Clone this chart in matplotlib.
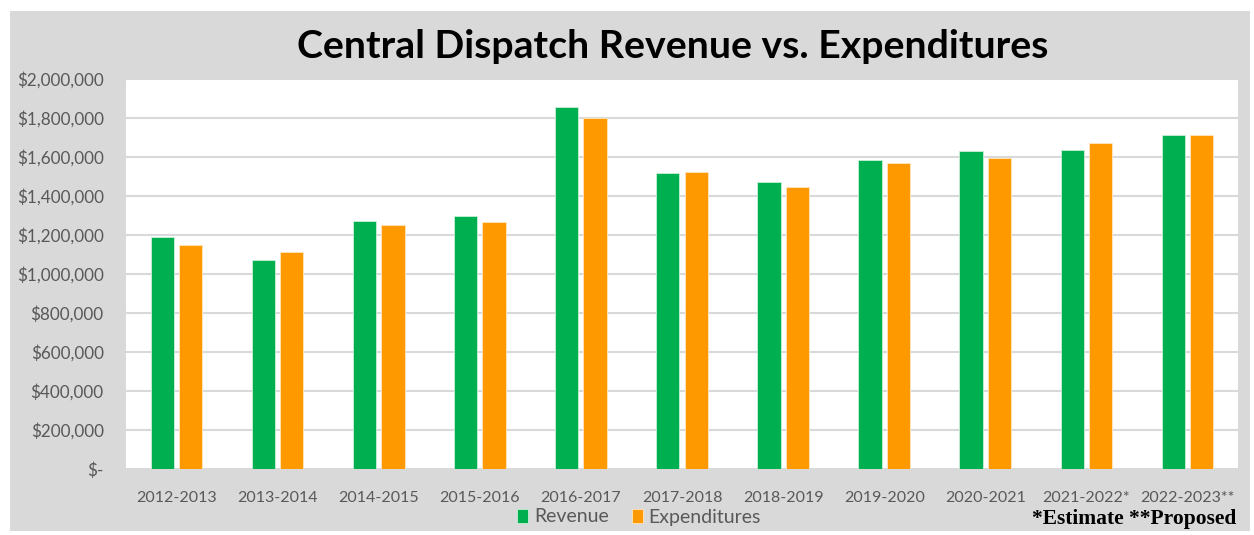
import matplotlib
matplotlib.use("Agg")
import matplotlib.pyplot as plt
from matplotlib.patches import Rectangle
from matplotlib.ticker import FuncFormatter
import numpy as np

categories = ["2012-2013", "2013-2014", "2014-2015", "2015-2016", "2016-2017",
              "2017-2018", "2018-2019", "2019-2020", "2020-2021", "2021-2022*",
              "2022-2023**"]
revenue = [1191000, 1074000, 1274000, 1298000, 1856000, 1520000, 1470000,
           1583000, 1632000, 1636000, 1714000]
expenditures = [1147000, 1113000, 1250000, 1269000, 1798000, 1525000, 1447000,
                1571000, 1597000, 1673000, 1714000]
yticks = [0, 200000, 400000, 600000, 800000, 1000000, 1200000, 1400000,
          1600000, 1800000, 2000000]

GREEN = "#00b050"
ORANGE = "#ff9900"
BG = "#d9d9d9"
TXT = "#595959"
FONT = "Lato"

fig = plt.figure(figsize=(12.54, 5.35), dpi=100)
fig.patch.set_facecolor("white")
fig.patches.append(Rectangle((10 / 1254, 1 - 531 / 535), 1240 / 1254, 520 / 535,
                             transform=fig.transFigure, facecolor=BG,
                             edgecolor="none", zorder=-5))

ax = fig.add_axes([126 / 1254, 1 - 469 / 535, 1112 / 1254, 390 / 535])
ax.set_zorder(1)
ax.set_facecolor("white")
x = np.arange(len(categories))
w = 0.23
off = 0.14
ax.bar(x - off, revenue, w, color=GREEN, edgecolor="#c8f0d8", linewidth=0.6,
       label="Revenue", zorder=3)
ax.bar(x + off, expenditures, w, color=ORANGE, edgecolor="#ffe6c0", linewidth=0.6,
       label="Expenditures", zorder=3)

ax.set_xlim(-0.5, len(categories) - 0.5)
ax.set_ylim(0, 2000000)
ax.set_yticks(yticks)
ax.yaxis.set_major_formatter(FuncFormatter(lambda v, p: "$-" if v == 0 else f"${v:,.0f}"))
ax.set_xticks(x)
ax.set_xticklabels(categories)
ax.grid(axis="y", color=BG, linewidth=1.5, zorder=0)
ax.set_axisbelow(True)
for s in ax.spines.values():
    s.set_visible(False)
ax.tick_params(axis="both", length=0, labelcolor=TXT)
ax.tick_params(axis="x", pad=16, labelsize=11.5)
ax.tick_params(axis="y", pad=16, labelsize=12.3)
for lab in ax.get_xticklabels() + ax.get_yticklabels():
    lab.set_fontfamily(FONT)

fig.text(673 / 1254, 1 - 47 / 535, "Central Dispatch Revenue vs. Expenditures",
         ha="center", va="center", fontsize=28.3, fontweight="bold",
         fontfamily=FONT, color="black")

leg = fig.legend(loc="center", bbox_to_anchor=(639 / 1254, 1 - 517 / 535),
                 ncol=2, frameon=False, handlelength=0.55, handleheight=0.75,
                 handletextpad=0.3, columnspacing=1.2,
                 prop={"family": FONT, "size": 14})
for t in leg.get_texts():
    t.set_color(TXT)

fig.text(1236 / 1254, 1 - 519 / 535, "*Estimate **Proposed", ha="right",
         va="center", fontsize=15.5, fontweight="bold",
         fontfamily="Liberation Serif", color="black")

fig.savefig("out.png", dpi=100, facecolor=fig.get_facecolor())
